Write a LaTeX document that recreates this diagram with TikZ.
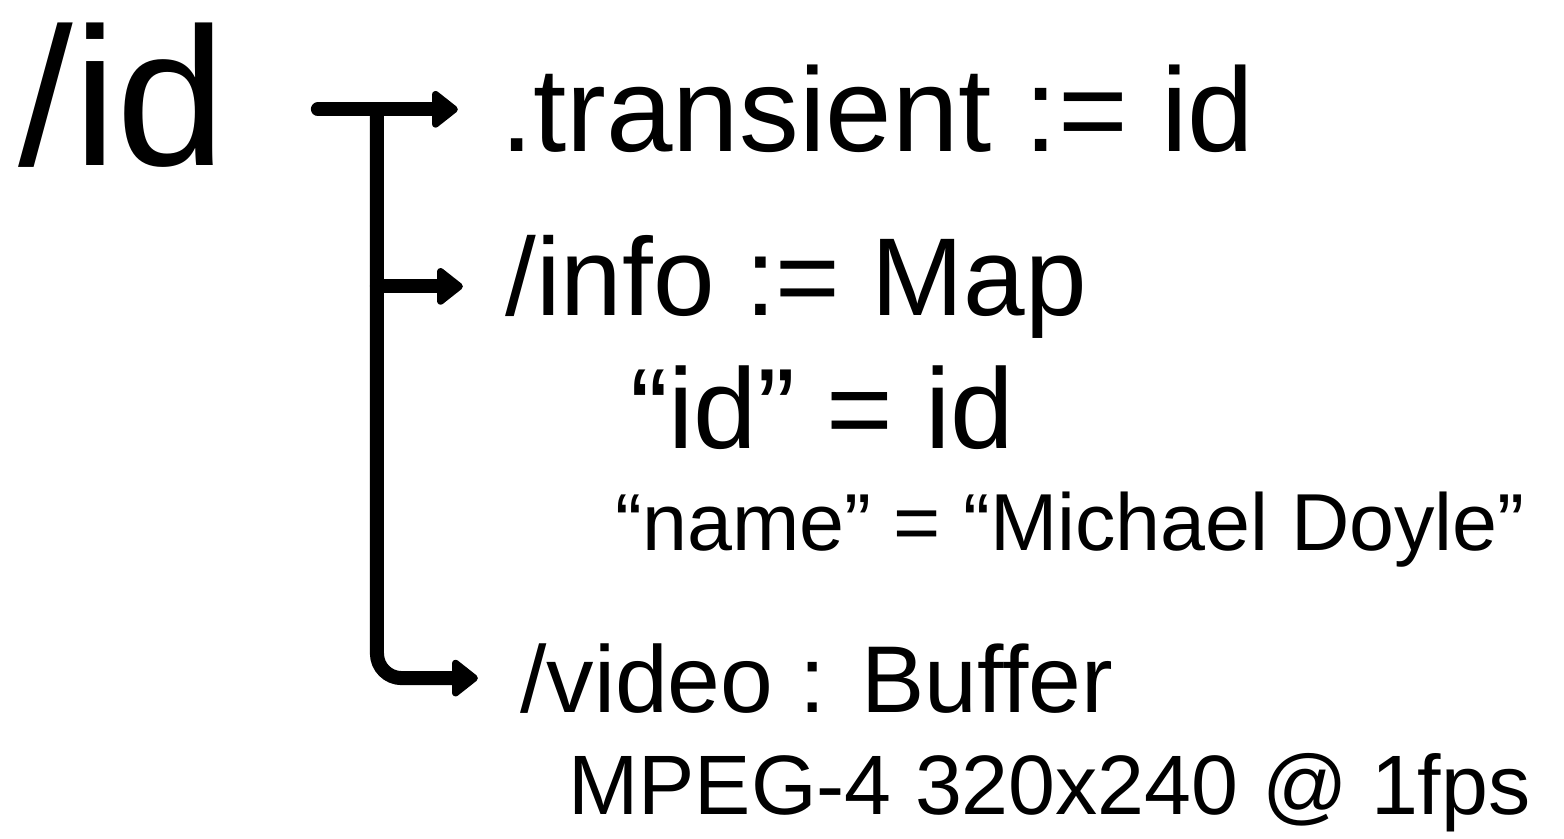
\documentclass[tikz,border=0pt]{standalone}
\usepackage{fontspec}
\setmainfont{Liberation Sans}
\usetikzlibrary{arrows.meta,calc}

\begin{document}
\begin{tikzpicture}[x=0.02cm,y=-0.02cm,line join=round,line cap=round,
  txt/.style={anchor=base west,inner sep=0pt},
  link/.style={line width=8pt,rounded corners=14pt,
    -{Triangle[round,length=16pt,width=24pt]}}]
  \useasboundingbox (0,0) rectangle (1564,838);
  % keys and values
  \node[txt,font=\fontsize{112}{112}\selectfont] (id) at (18,165) {/id};
  \node[txt,font=\fontsize{68}{68}\selectfont] (transient) at (500,152) {.transient := id};
  \node[txt,font=\fontsize{63}{63}\selectfont] (info) at (505,315) {/info := Map};
  \node[txt,font=\fontsize{65}{65}\selectfont] (idval) at (630,448) {“id” = id};
  \node[txt,font=\fontsize{46}{46}\selectfont] (name) at (615,550) {“name” = “Michael Doyle”};
  \node[txt,font=\fontsize{54}{54}\selectfont] (video) at (520,712) {/video : Buffer};
  \node[txt,font=\fontsize{48}{48}\selectfont] (mpeg) at (568,814) {MPEG-4 320x240 @ 1fps};
  % connectors
  \coordinate (start) at (id.east |- transient.west);
  \coordinate (split) at ($(start)!0.55!(transient.west)$);
  \draw[link,shorten <=52pt,shorten >=24pt] (start) -- (transient.west);
  \draw[link,shorten >=24pt] (split) |- (video.west);
  \draw[link,shorten >=24pt] (split |- info.west) -- (info.west);
\end{tikzpicture}
\end{document}
